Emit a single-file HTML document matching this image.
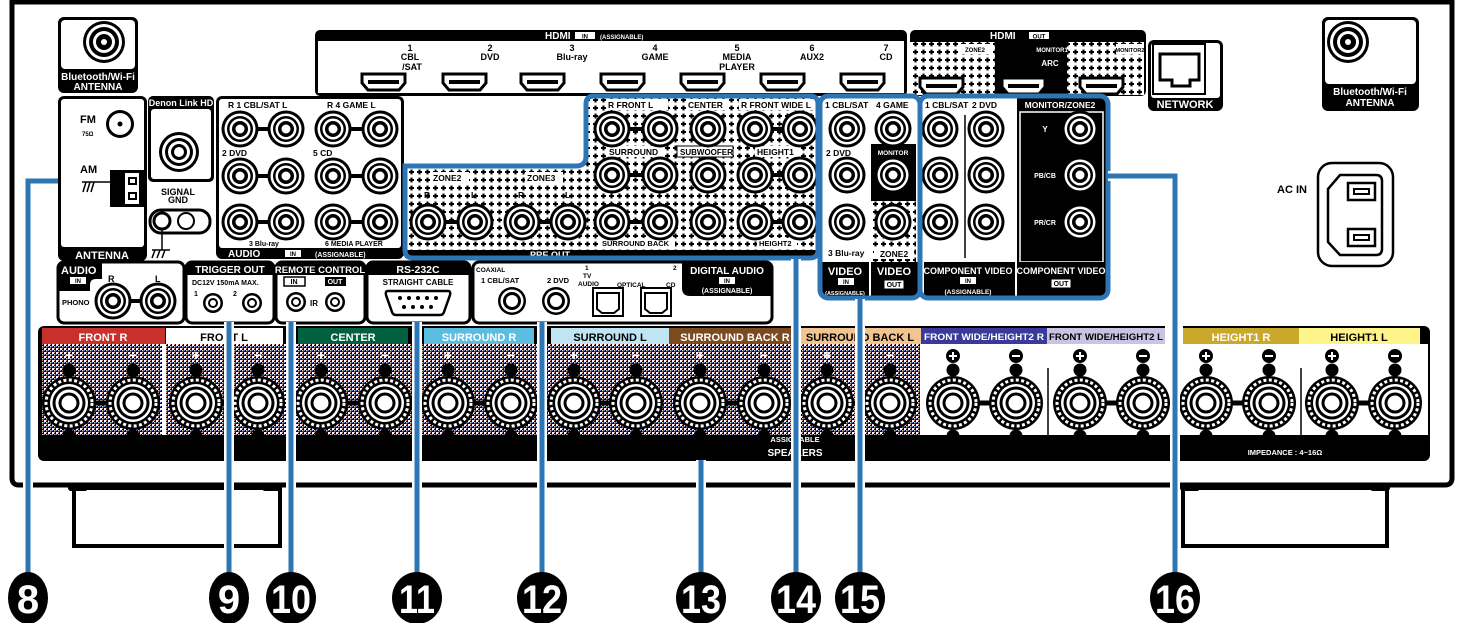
<!DOCTYPE html>
<html><head><meta charset="utf-8"><style>
html,body{margin:0;padding:0;background:#fff}
svg{display:block}
text{font-family:"Liberation Sans",sans-serif;font-weight:bold}
</style></head><body>
<svg width="1458" height="623" viewBox="0 0 1458 623" xmlns="http://www.w3.org/2000/svg">
<defs>
<pattern id="dot" width="8" height="8" patternUnits="userSpaceOnUse">
<rect width="8" height="8" fill="#fff"/><rect x="1" y="3" width="5" height="2" fill="#000"/><rect x="2.5" y="1.5" width="2" height="5" fill="#000"/>
</pattern>
<pattern id="spkp" width="4" height="4" patternUnits="userSpaceOnUse">
<rect width="4" height="4" fill="#000"/><rect x="0" y="0" width="2" height="2" fill="#fff"/><rect x="2" y="2" width="1.5" height="1.5" fill="#bdb"/><rect x="2" y="0" width="1" height="1" fill="#d88"/><rect x="0" y="2" width="1" height="1" fill="#88d"/>
</pattern>
<g id="rca"><circle r="18.5" fill="#000"/><circle r="15.5" fill="#fff"/><circle r="13" fill="#000"/><circle r="10.5" fill="#fff"/><circle r="8" fill="#000"/><circle r="4.5" fill="#fff"/></g>
<g id="rcas"><circle r="14" fill="#000"/><circle r="11.5" fill="#fff"/><circle r="9" fill="#000"/><circle r="6" fill="#fff"/></g>
<g id="spk"><circle cy="-33" r="6.5" fill="#000"/><circle cy="33" r="6.5" fill="#000"/><circle r="27" fill="#000"/><circle r="23" fill="none" stroke="#fff" stroke-width="3" stroke-dasharray="3 2.4"/><circle r="19" fill="#fff"/><circle r="16.5" fill="#000"/><circle r="13.5" fill="#fff"/><circle r="10.5" fill="#000"/><circle r="7.5" fill="#fff"/></g>
<g id="hdmi"><path d="M0,0 H43 V9 L37,16 H6 L0,9 Z" fill="#fff" stroke="#000" stroke-width="3"/><rect x="6" y="6" width="31" height="4" fill="#000"/></g>
</defs>

<path d="M12,2 H1452 V478 Q1452,485 1445,485 H19 Q12,485 12,478 Z" fill="#fff" stroke="#000" stroke-width="5"/>
<rect x="74" y="488" width="206" height="58" fill="#fff" stroke="#000" stroke-width="4"/>
<rect x="1183" y="488" width="204" height="58" fill="#fff" stroke="#000" stroke-width="4"/>
<rect x="68" y="483" width="20" height="8" rx="3" fill="#000"/><rect x="262" y="483" width="20" height="8" rx="3" fill="#000"/>
<rect x="1180" y="483" width="20" height="8" rx="3" fill="#000"/><rect x="1370" y="483" width="20" height="8" rx="3" fill="#000"/>

<rect x="58" y="17" width="80" height="76" rx="6" fill="#000"/>
<rect x="61" y="20" width="74" height="49" rx="4" fill="#fff"/>
<circle cx="104" cy="42" r="21" fill="#000"/><circle cx="104" cy="42" r="18" fill="#fff"/><circle cx="104" cy="42" r="15" fill="#000"/><circle cx="104" cy="42" r="11" fill="#fff"/><circle cx="104" cy="42" r="8" fill="#000"/><circle cx="104" cy="42" r="3" fill="#fff"/>
<text x="98" y="80" font-size="10" fill="#fff" text-anchor="middle">Bluetooth/Wi-Fi</text>
<text x="98" y="90" font-size="10" fill="#fff" text-anchor="middle">ANTENNA</text>
<rect x="1322" y="17" width="97" height="94" rx="6" fill="#000"/>
<rect x="1325" y="20" width="91" height="64" rx="4" fill="#fff"/>
<circle cx="1348" cy="42" r="21" fill="#000"/><circle cx="1348" cy="42" r="18" fill="#fff"/><circle cx="1348" cy="42" r="15" fill="#000"/><circle cx="1348" cy="42" r="11" fill="#fff"/><circle cx="1348" cy="42" r="8" fill="#000"/><circle cx="1348" cy="42" r="3" fill="#fff"/>
<text x="1370" y="95" font-size="10" fill="#fff" text-anchor="middle">Bluetooth/Wi-Fi</text>
<text x="1370" y="106" font-size="10" fill="#fff" text-anchor="middle">ANTENNA</text>

<rect x="315" y="30" width="592" height="66" rx="5" fill="#000"/>
<rect x="318" y="41" width="586" height="52" fill="#fff"/>
<text x="545" y="39" font-size="10" fill="#fff">HDMI</text><rect x="575" y="32" width="20" height="7" fill="#fff"/><text x="585" y="38.5" font-size="6" fill="#000" text-anchor="middle">IN</text>
<text x="600" y="39" font-size="6" fill="#fff">(ASSIGNABLE)</text>
<g font-size="9" text-anchor="middle" fill="#000">
<text x="410" y="51">1</text><text x="410" y="60">CBL</text><text x="412" y="70">/SAT</text>
<text x="490" y="51">2</text><text x="490" y="60">DVD</text>
<text x="572" y="51">3</text><text x="572" y="60">Blu-ray</text>
<text x="655" y="51">4</text><text x="655" y="60">GAME</text>
<text x="737" y="51">5</text><text x="737" y="60">MEDIA</text><text x="737" y="70">PLAYER</text>
<text x="812" y="51">6</text><text x="812" y="60">AUX2</text>
<text x="886" y="51">7</text><text x="886" y="60">CD</text>
</g>
<use href="#hdmi" x="362" y="74"/><use href="#hdmi" x="443" y="74"/><use href="#hdmi" x="521" y="74"/><use href="#hdmi" x="601" y="74"/><use href="#hdmi" x="681" y="74"/><use href="#hdmi" x="761" y="74"/><use href="#hdmi" x="841" y="74"/>

<rect x="910" y="30" width="236" height="66" rx="5" fill="#000"/>
<rect x="910" y="42" width="85" height="53" fill="url(#dot)"/>
<rect x="1067" y="42" width="77" height="53" fill="url(#dot)"/>
<text x="990" y="39" font-size="10" fill="#fff">HDMI</text><rect x="1029" y="32" width="20" height="7" fill="#fff"/><text x="1039" y="38.5" font-size="6" text-anchor="middle">OUT</text>
<rect x="958" y="44" width="34" height="10" fill="#fff"/><text x="975" y="52" font-size="6" text-anchor="middle">ZONE2</text>
<text x="1052" y="52" font-size="6" fill="#fff" text-anchor="middle">MONITOR1</text><text x="1050" y="66" font-size="8" fill="#fff" text-anchor="middle">ARC</text>
<rect x="1116" y="44" width="28" height="10" fill="#fff"/><text x="1130" y="52" font-size="5.5" text-anchor="middle">MONITOR2</text>
<use href="#hdmi" x="920" y="78"/><use href="#hdmi" x="1002" y="78"/><use href="#hdmi" x="1080" y="78"/>

<rect x="1148" y="40" width="75" height="71" rx="6" fill="#000"/>
<rect x="1151" y="43" width="69" height="55" rx="3" fill="#fff"/>
<rect x="1153" y="44" width="52" height="50" fill="none" stroke="#000" stroke-width="2"/>
<path d="M1160,54 H1199 V80 H1190 V86 H1172 V80 H1160 Z" fill="#fff" stroke="#000" stroke-width="3"/>
<text x="1185" y="108" font-size="11" fill="#fff" text-anchor="middle">NETWORK</text>

<rect x="58" y="96" width="89" height="165" rx="6" fill="#000"/>
<rect x="61" y="99" width="83" height="148" rx="3" fill="#fff"/>
<text x="102" y="259" font-size="11" fill="#fff" text-anchor="middle">ANTENNA</text>
<text x="80" y="123" font-size="11">FM</text><text x="82" y="136" font-size="6">75Ω</text>
<circle cx="120" cy="124" r="14" fill="#000"/><circle cx="120" cy="124" r="11" fill="#fff"/><circle cx="120" cy="124" r="2.5" fill="#000"/>
<text x="80" y="173" font-size="11">AM</text>
<path d="M82,182 H110 M86,182 L83,192 M90,182 L87,192 M94,182 L91,192" stroke="#000" stroke-width="1.5"/>
<rect x="110" y="170" width="34" height="37" fill="#000"/><rect x="124" y="172" width="16" height="33" fill="#fff" stroke="#000" stroke-width="2"/>
<rect x="128" y="177" width="9" height="8" fill="#000"/><rect x="128" y="192" width="9" height="8" fill="#000"/>
<rect x="130" y="179" width="5" height="4" fill="#fff"/><rect x="130" y="194" width="5" height="4" fill="#fff"/>
<rect x="148" y="96" width="66" height="86" rx="5" fill="#000"/>
<rect x="151" y="109" width="60" height="70" rx="3" fill="#fff"/>
<text x="181" y="106" font-size="9" fill="#fff" text-anchor="middle">Denon Link HD</text>
<circle cx="179" cy="152" r="20" fill="#000"/><circle cx="179" cy="152" r="17" fill="#fff"/><circle cx="179" cy="152" r="14" fill="#000"/><circle cx="179" cy="152" r="11" fill="#fff"/><circle cx="179" cy="152" r="8" fill="#000"/><circle cx="179" cy="152" r="5" fill="#fff"/>
<text x="178" y="195" font-size="9" text-anchor="middle">SIGNAL</text><text x="178" y="203" font-size="9" text-anchor="middle">GND</text>
<rect x="150" y="210" width="60" height="23" rx="11" fill="#fff" stroke="#000" stroke-width="3"/>
<circle cx="162" cy="221" r="8" fill="#fff" stroke="#000" stroke-width="3"/><circle cx="186" cy="221" r="8" fill="#fff" stroke="#000" stroke-width="2"/>
<path d="M162,229 V250 M152,250 H170 M155,250 L152,258 M160,250 L157,258 M165,250 L162,258" stroke="#000" stroke-width="1.5"/>

<rect x="216" y="96" width="188" height="163" rx="6" fill="#000"/>
<rect x="219" y="99" width="182" height="149" rx="3" fill="#fff"/>
<text x="228" y="257" font-size="10" fill="#fff">AUDIO</text><rect x="285" y="250" width="16" height="7" fill="#fff"/><text x="293" y="256" font-size="6" text-anchor="middle">IN</text>
<text x="315" y="257" font-size="7" fill="#fff">(ASSIGNABLE)</text>
<g font-size="8.5"><text x="228" y="108">R 1 CBL/SAT L</text><text x="327" y="108">R 4 GAME L</text><text x="222" y="156">2 DVD</text><text x="313" y="156">5 CD</text>
<text x="249" y="246" font-size="7">3 Blu-ray</text><text x="325" y="246" font-size="7">6 MEDIA PLAYER</text></g>
<g stroke="#000" stroke-width="4"><path d="M240,129 H286 M333,129 H380 M240,176 H286 M333,176 H380 M240,222 H286 M333,222 H380"/></g>
<use href="#rca" x="240" y="129"/><use href="#rca" x="286" y="129"/><use href="#rca" x="333" y="129"/><use href="#rca" x="380" y="129"/>
<use href="#rca" x="240" y="176"/><use href="#rca" x="286" y="176"/><use href="#rca" x="333" y="176"/><use href="#rca" x="380" y="176"/>
<use href="#rca" x="240" y="222"/><use href="#rca" x="286" y="222"/><use href="#rca" x="333" y="222"/><use href="#rca" x="380" y="222"/>

<path d="M405,166 H576 Q586,166 586,156 V104 Q586,96 594,96 H810 Q818,96 818,104 V250 Q818,258 810,258 H413 Q405,258 405,250 Z" fill="url(#dot)"/>
<rect x="405" y="250" width="413" height="8" fill="#000"/>
<text x="530" y="258" font-size="9" fill="#fff">PRE OUT</text>
<g font-size="8.5" fill="#000">
<rect x="606" y="99" width="62" height="11" fill="#fff"/><text x="608" y="108">R FRONT L</text>
<rect x="686" y="99" width="42" height="11" fill="#fff"/><text x="688" y="108">CENTER</text>
<rect x="739" y="99" width="78" height="11" fill="#fff"/><text x="741" y="108">R FRONT WIDE L</text>
<rect x="607" y="146" width="57" height="11" fill="#fff"/><text x="609" y="155">SURROUND</text>
<rect x="677" y="146" width="56" height="11" fill="#fff" stroke="#000" stroke-width="1"/><text x="680" y="155" font-size="8">SUBWOOFER</text>
<rect x="755" y="146" width="45" height="11" fill="#fff"/><text x="757" y="155">HEIGHT1</text>
<rect x="600" y="238" width="75" height="10" fill="#fff"/><text x="602" y="246" font-size="7.5">SURROUND BACK</text>
<rect x="757" y="238" width="40" height="10" fill="#fff"/><text x="759" y="246" font-size="7.5">HEIGHT2</text>
<rect x="431" y="172" width="38" height="11" fill="#fff"/><text x="433" y="181">ZONE2</text>
<rect x="525" y="172" width="38" height="11" fill="#fff"/><text x="527" y="181">ZONE3</text>
<text x="424" y="198">R</text><text x="471" y="198">L</text><text x="518" y="198">R</text><text x="565" y="198">L</text>
</g>
<g stroke="#000" stroke-width="4"><path d="M612,129 H660 M755,129 H800 M612,175 H660 M755,175 H800 M612,222 H660 M755,222 H800 M428,222 H475 M522,222 H568"/></g>
<use href="#rca" x="612" y="129"/><use href="#rca" x="660" y="129"/><use href="#rca" x="708" y="129"/><use href="#rca" x="755" y="129"/><use href="#rca" x="800" y="129"/>
<use href="#rca" x="612" y="175"/><use href="#rca" x="660" y="175"/><use href="#rca" x="708" y="175"/><use href="#rca" x="755" y="175"/><use href="#rca" x="800" y="175"/>
<use href="#rca" x="612" y="222"/><use href="#rca" x="660" y="222"/><use href="#rca" x="708" y="222"/><use href="#rca" x="755" y="222"/><use href="#rca" x="800" y="222"/>
<use href="#rca" x="428" y="222"/><use href="#rca" x="475" y="222"/><use href="#rca" x="522" y="222"/><use href="#rca" x="568" y="222"/>
<path d="M405,166 H576 Q586,166 586,156 V104 Q586,96 594,96 H810 Q818,96 818,104 V250 Q818,258 810,258 H413 Q405,258 405,250 Z" fill="none" stroke="#2e75b6" stroke-width="5"/>

<rect x="820" y="96" width="100" height="202" rx="8" fill="#fff"/>
<rect x="871" y="144" width="45" height="57" fill="#000"/>
<rect x="871" y="201" width="45" height="62" fill="url(#dot)"/>
<rect x="822" y="262" width="96" height="36" fill="#000"/>
<rect x="869" y="262" width="2" height="36" fill="#fff"/>
<g font-size="8.5"><text x="825" y="108">1 CBL/SAT</text><text x="876" y="108">4 GAME</text><text x="826" y="156">2 DVD</text><text x="828" y="256">3 Blu-ray</text></g>
<text x="893" y="155" font-size="6.5" fill="#fff" text-anchor="middle">MONITOR</text>
<rect x="874" y="248" width="40" height="11" fill="#fff"/><text x="894" y="257" font-size="8.5" text-anchor="middle">ZONE2</text>
<use href="#rca" x="847" y="129"/><use href="#rca" x="893" y="129"/><use href="#rca" x="847" y="175"/><use href="#rca" x="893" y="175"/><use href="#rca" x="847" y="222"/><use href="#rca" x="893" y="222"/>
<text x="845" y="275" font-size="11" fill="#fff" text-anchor="middle">VIDEO</text><rect x="838" y="278" width="16" height="7" fill="#fff"/><text x="846" y="284" font-size="6" text-anchor="middle">IN</text>
<text x="845" y="295" font-size="5.5" fill="#fff" text-anchor="middle">(ASSIGNABLE)</text>
<text x="894" y="275" font-size="11" fill="#fff" text-anchor="middle">VIDEO</text><rect x="884" y="280" width="20" height="9" fill="#fff" stroke="#000"/><text x="894" y="287" font-size="7" text-anchor="middle">OUT</text>
<rect x="820" y="96" width="100" height="202" rx="8" fill="none" stroke="#2e75b6" stroke-width="5"/>

<rect x="922" y="96" width="186" height="202" rx="8" fill="#fff"/>
<rect x="1017" y="98" width="89" height="198" fill="#000"/>
<rect x="1020" y="112" width="83" height="150" fill="none" stroke="#fff" stroke-width="1.5"/>
<rect x="924" y="262" width="184" height="34" fill="#000"/>
<rect x="1015" y="262" width="2" height="34" fill="#fff"/>
<path d="M965,115 V258" stroke="#000" stroke-width="1.5"/>
<g font-size="8.5"><text x="925" y="108">1 CBL/SAT</text><text x="972" y="108">2 DVD</text></g>
<text x="1060" y="108" font-size="8.5" fill="#fff" text-anchor="middle">MONITOR/ZONE2</text>
<text x="1045" y="132" font-size="8" fill="#fff" text-anchor="middle">Y</text>
<text x="1045" y="178" font-size="7" fill="#fff" text-anchor="middle">PB/CB</text>
<text x="1045" y="225" font-size="7" fill="#fff" text-anchor="middle">PR/CR</text>
<use href="#rca" x="940" y="129"/><use href="#rca" x="986" y="129"/><use href="#rca" x="940" y="175"/><use href="#rca" x="986" y="175"/><use href="#rca" x="940" y="222"/><use href="#rca" x="986" y="222"/>
<use href="#rca" x="1080" y="129"/><use href="#rca" x="1080" y="175"/><use href="#rca" x="1080" y="222"/>
<text x="968" y="274" font-size="9" fill="#fff" text-anchor="middle">COMPONENT VIDEO</text><rect x="960" y="277" width="16" height="7" fill="#fff"/><text x="968" y="283" font-size="6" text-anchor="middle">IN</text>
<text x="968" y="294" font-size="6.5" fill="#fff" text-anchor="middle">(ASSIGNABLE)</text>
<text x="1061" y="274" font-size="9" fill="#fff" text-anchor="middle">COMPONENT VIDEO</text><rect x="1051" y="279" width="20" height="9" fill="#fff" stroke="#000"/><text x="1061" y="286" font-size="7" text-anchor="middle">OUT</text>
<rect x="920" y="96" width="188" height="202" rx="8" fill="none" stroke="#2e75b6" stroke-width="5"/>

<rect x="1318" y="163" width="75" height="103" rx="14" fill="#fff" stroke="#000" stroke-width="2.5"/>
<path d="M1340,175 H1376 Q1382,175 1382,181 V249 Q1382,255 1376,255 H1340 L1328,242 V189 Z" fill="#fff" stroke="#000" stroke-width="2.5"/>
<rect x="1348" y="183" width="27" height="17" fill="#fff" stroke="#000" stroke-width="2.5"/><rect x="1354" y="189" width="15" height="5" fill="#fff" stroke="#000" stroke-width="2"/>
<rect x="1348" y="229" width="27" height="17" fill="#fff" stroke="#000" stroke-width="2.5"/><rect x="1354" y="235" width="15" height="5" fill="#fff" stroke="#000" stroke-width="2"/>
<text x="1277" y="193" font-size="11">AC IN</text>

<rect x="58" y="262" width="126" height="61" rx="6" fill="#fff" stroke="#000" stroke-width="3"/>
<path d="M58,268 Q58,262 64,262 H102 V279 H96 Q90,279 90,285 V291 H58 Z" fill="#000"/>
<text x="61" y="274" font-size="11" fill="#fff">AUDIO</text><rect x="70" y="277" width="16" height="7" fill="#fff"/><text x="78" y="283" font-size="6" text-anchor="middle">IN</text>
<text x="108" y="282" font-size="9">R</text><text x="155" y="282" font-size="9">L</text>
<text x="62" y="305" font-size="7.5">PHONO</text>
<path d="M113,301 H158" stroke="#000" stroke-width="4"/><use href="#rca" x="113" y="301"/><use href="#rca" x="158" y="301"/>

<rect x="186" y="262" width="88" height="61" rx="6" fill="#fff" stroke="#000" stroke-width="3"/>
<path d="M186,268 Q186,262 192,262 H268 Q274,262 274,268 V275 H186 Z" fill="#000"/>
<text x="230" y="273" font-size="10" fill="#fff" text-anchor="middle">TRIGGER OUT</text>
<text x="192" y="285" font-size="7">DC12V 150mA MAX.</text><text x="194" y="296" font-size="7">1</text><text x="233" y="296" font-size="7">2</text>
<circle cx="213" cy="303" r="10" fill="#000"/><circle cx="213" cy="303" r="7.5" fill="#fff"/><circle cx="213" cy="303" r="5" fill="#000"/><circle cx="213" cy="303" r="3" fill="#fff"/>
<circle cx="252" cy="303" r="10" fill="#000"/><circle cx="252" cy="303" r="7.5" fill="#fff"/><circle cx="252" cy="303" r="5" fill="#000"/><circle cx="252" cy="303" r="3" fill="#fff"/>

<rect x="276" y="262" width="89" height="61" rx="6" fill="#fff" stroke="#000" stroke-width="3"/>
<path d="M276,268 Q276,262 282,262 H359 Q365,262 365,268 V275 H276 Z" fill="#000"/>
<text x="320" y="273" font-size="9.5" fill="#fff" text-anchor="middle">REMOTE CONTROL</text>
<rect x="284" y="277" width="21" height="9" fill="#fff" stroke="#000" stroke-width="1.5"/><text x="294" y="284" font-size="7" text-anchor="middle">IN</text>
<rect x="325" y="277" width="21" height="9" fill="#000"/><text x="335" y="284" font-size="7" fill="#fff" text-anchor="middle">OUT</text>
<text x="310" y="306" font-size="8">IR</text>
<circle cx="296" cy="302" r="10" fill="#000"/><circle cx="296" cy="302" r="7.5" fill="#fff"/><circle cx="296" cy="302" r="5" fill="#000"/><circle cx="296" cy="302" r="3" fill="#fff"/>
<circle cx="335" cy="302" r="10" fill="#000"/><circle cx="335" cy="302" r="7.5" fill="#fff"/><circle cx="335" cy="302" r="5" fill="#000"/><circle cx="335" cy="302" r="3" fill="#fff"/>

<rect x="367" y="262" width="103" height="61" rx="6" fill="#fff" stroke="#000" stroke-width="3"/>
<path d="M367,268 Q367,262 373,262 H464 Q470,262 470,268 V275 H367 Z" fill="#000"/>
<text x="418" y="273" font-size="10.5" fill="#fff" text-anchor="middle">RS-232C</text>
<text x="418" y="285" font-size="8" text-anchor="middle">STRAIGHT CABLE</text>
<path d="M388,291 H448 Q451,291 450,295 L444,312 Q443,315 440,315 H396 Q393,315 392,312 L386,295 Q385,291 388,291 Z" fill="#fff" stroke="#000" stroke-width="2.5"/>
<g fill="#000"><circle cx="400" cy="298" r="2"/><circle cx="409" cy="298" r="2"/><circle cx="418" cy="298" r="2"/><circle cx="427" cy="298" r="2"/><circle cx="436" cy="298" r="2"/><circle cx="404" cy="307" r="2"/><circle cx="413" cy="307" r="2"/><circle cx="422" cy="307" r="2"/><circle cx="431" cy="307" r="2"/></g>

<rect x="473" y="262" width="299" height="61" rx="6" fill="#fff" stroke="#000" stroke-width="3"/>
<path d="M682,262 H766 Q772,262 772,268 V296 H690 Q682,296 682,288 Z" fill="#000"/>
<text x="727" y="274" font-size="10" fill="#fff" text-anchor="middle">DIGITAL AUDIO</text><rect x="719" y="277" width="16" height="7" fill="#fff"/><text x="727" y="283" font-size="6" text-anchor="middle">IN</text>
<text x="727" y="293" font-size="7" fill="#fff" text-anchor="middle">(ASSIGNABLE)</text>
<text x="476" y="272" font-size="6.5">COAXIAL</text><text x="481" y="283" font-size="7.5">1 CBL/SAT</text><text x="547" y="283" font-size="7.5">2 DVD</text>
<text x="585" y="270" font-size="6.5">1</text><text x="583" y="278" font-size="6.5">TV</text><text x="578" y="286" font-size="6.5">AUDIO</text>
<text x="617" y="287" font-size="6.5">OPTICAL</text><text x="673" y="270" font-size="6.5">2</text><text x="666" y="287" font-size="6.5">CD</text>
<use href="#rcas" x="512" y="301"/><use href="#rcas" x="556" y="301"/>
<rect x="593" y="288" width="30" height="28" fill="#fff" stroke="#000" stroke-width="2"/><path d="M597,293 H619 V309 L614,313 H602 L597,309 Z" fill="#fff" stroke="#000" stroke-width="2"/>
<rect x="641" y="288" width="30" height="28" fill="#fff" stroke="#000" stroke-width="2"/><path d="M645,293 H667 V309 L662,313 H650 L645,309 Z" fill="#fff" stroke="#000" stroke-width="2"/>

<rect x="38" y="326" width="1392" height="135" rx="6" fill="#000"/>
<rect x="42" y="344" width="878" height="91" fill="url(#spkp)"/>
<rect x="920" y="344" width="245" height="91" fill="#fff"/>
<rect x="1165" y="344" width="263" height="91" fill="#fff"/>
<rect x="1165" y="326" width="18" height="109" fill="#fff"/>
<rect x="162" y="344" width="4" height="91" fill="#fff"/>
<rect x="42" y="328" width="123" height="16" fill="#c8302c"/>
<rect x="166" y="328" width="117" height="16" fill="#fff"/>
<rect x="298" y="328" width="110" height="16" fill="#006040"/>
<rect x="424" y="328" width="110" height="16" fill="#5bbde0"/>
<rect x="551" y="328" width="118" height="16" fill="#bfe4f2"/>
<rect x="669" y="328" width="130" height="16" fill="#7b4a1e"/>
<rect x="800" y="328" width="121" height="16" fill="#f2c490"/>
<rect x="921" y="328" width="126" height="16" fill="#3a3a9a"/>
<rect x="1047" y="328" width="118" height="16" fill="#c8c4e4"/>
<rect x="1183" y="328" width="116" height="16" fill="#c9a82c"/>
<rect x="1299" y="328" width="121" height="16" fill="#fff48a"/>
<g font-size="11">
<text x="103" y="341" fill="#fff" text-anchor="middle">FRONT R</text>
<text x="224" y="341" text-anchor="middle">FRONT L</text>
<text x="353" y="341" fill="#fff" text-anchor="middle">CENTER</text>
<text x="479" y="341" fill="#fff" text-anchor="middle">SURROUND R</text>
<text x="610" y="341" text-anchor="middle">SURROUND L</text>
<text x="735" y="341" fill="#fff" text-anchor="middle">SURROUND BACK R</text>
<text x="860" y="341" text-anchor="middle">SURROUND BACK L</text>
<text x="984" y="340" fill="#fff" text-anchor="middle" font-size="9.5" textLength="120" lengthAdjust="spacingAndGlyphs">FRONT WIDE/HEIGHT2 R</text>
<text x="1106" y="340" text-anchor="middle" font-size="9.5" textLength="114" lengthAdjust="spacingAndGlyphs">FRONT WIDE/HEIGHT2 L</text>
<text x="1241" y="341" fill="#fff" text-anchor="middle">HEIGHT1 R</text>
<text x="1359" y="341" text-anchor="middle">HEIGHT1 L</text>
</g>
<g stroke="#000" stroke-width="5">
<path d="M69,403 H133 M196,403 H258 M321,403 H385 M448,403 H511 M574,403 H636 M700,403 H764 M827,403 H890 M953,403 H1016 M1080,403 H1143 M1206,403 H1269 M1332,403 H1395"/>
</g>
<g>
<use href="#spk" x="69" y="403"/><use href="#spk" x="133" y="403"/><use href="#spk" x="196" y="403"/><use href="#spk" x="258" y="403"/>
<use href="#spk" x="321" y="403"/><use href="#spk" x="385" y="403"/><use href="#spk" x="448" y="403"/><use href="#spk" x="511" y="403"/>
<use href="#spk" x="574" y="403"/><use href="#spk" x="636" y="403"/><use href="#spk" x="700" y="403"/><use href="#spk" x="764" y="403"/>
<use href="#spk" x="827" y="403"/><use href="#spk" x="890" y="403"/><use href="#spk" x="953" y="403"/><use href="#spk" x="1016" y="403"/>
<use href="#spk" x="1080" y="403"/><use href="#spk" x="1143" y="403"/><use href="#spk" x="1206" y="403"/><use href="#spk" x="1269" y="403"/>
<use href="#spk" x="1332" y="403"/><use href="#spk" x="1395" y="403"/>
</g>
<g fill="#fff" font-size="14" text-anchor="middle">
<text x="69" y="360">+</text><text x="133" y="360">−</text><text x="196" y="360">+</text><text x="258" y="360">−</text>
<text x="321" y="360">+</text><text x="385" y="360">−</text><text x="448" y="360">+</text><text x="511" y="360">−</text>
<text x="574" y="360">+</text><text x="636" y="360">−</text><text x="700" y="360">+</text><text x="764" y="360">−</text>
<text x="827" y="360">+</text><text x="890" y="360">−</text>
</g>
<g>
<circle cx="953" cy="356" r="7" fill="#000"/><circle cx="1016" cy="356" r="7" fill="#000"/><circle cx="1080" cy="356" r="7" fill="#000"/><circle cx="1143" cy="356" r="7" fill="#000"/>
<circle cx="1206" cy="356" r="7" fill="#000"/><circle cx="1269" cy="356" r="7" fill="#000"/><circle cx="1332" cy="356" r="7" fill="#000"/><circle cx="1395" cy="356" r="7" fill="#000"/>
<g stroke="#fff" stroke-width="2"><path d="M949,356 H957 M953,352 V360 M1012,356 H1020 M1076,356 H1084 M1080,352 V360 M1139,356 H1147 M1202,356 H1210 M1206,352 V360 M1265,356 H1273 M1328,356 H1336 M1332,352 V360 M1391,356 H1399"/></g>
</g>
<path d="M1048,368 V440 M1301,368 V440" stroke="#000" stroke-width="1.5"/>
<g font-size="7.5">
<text x="1048" y="442" text-anchor="middle">ASSIGNABLE</text><text x="1300" y="442" text-anchor="middle">ASSIGNABLE</text>
<text x="795" y="442" text-anchor="middle" fill="#fff">ASSIGNABLE</text>
</g>
<text x="795" y="456" font-size="10" fill="#fff" text-anchor="middle">SPEAKERS</text>
<text x="1285" y="455" font-size="7.5" fill="#fff" text-anchor="middle">IMPEDANCE : 4~16Ω</text>

<g fill="none">
<g stroke="#fff" stroke-width="10">
<path d="M28,600 V181 H58"/><path d="M229,600 V322"/><path d="M291,600 V322"/><path d="M417,600 V322"/><path d="M542,600 V322"/><path d="M701,600 V460"/><path d="M796,600 V259"/><path d="M860,600 V299"/><path d="M1175,600 V176 H1108"/>
</g>
<g stroke="#2e75b6" stroke-width="5">
<path d="M28,600 V181 H58"/><path d="M229,600 V322"/><path d="M291,600 V322"/><path d="M417,600 V322"/><path d="M542,600 V322"/><path d="M701,600 V460"/><path d="M796,600 V259"/><path d="M860,600 V299"/><path d="M1175,600 V176 H1108"/>
</g>
</g>
<g fill="#000">
<ellipse cx="28" cy="598" rx="20" ry="26"/><ellipse cx="229" cy="598" rx="20" ry="26"/><ellipse cx="291" cy="598" rx="25" ry="26"/>
<ellipse cx="417" cy="598" rx="25" ry="26"/><ellipse cx="542" cy="598" rx="25" ry="26"/><ellipse cx="701" cy="598" rx="25" ry="26"/>
<ellipse cx="796" cy="598" rx="25" ry="26"/><ellipse cx="860" cy="598" rx="25" ry="26"/><ellipse cx="1175" cy="598" rx="25" ry="26"/>
</g>
<g fill="#fff" font-size="40" text-anchor="middle">
<text x="28" y="613">8</text><text x="229" y="613">9</text>
<text x="291" y="613" textLength="40" lengthAdjust="spacingAndGlyphs">10</text>
<text x="417" y="613" textLength="36" lengthAdjust="spacingAndGlyphs">11</text>
<text x="542" y="613" textLength="40" lengthAdjust="spacingAndGlyphs">12</text>
<text x="701" y="613" textLength="40" lengthAdjust="spacingAndGlyphs">13</text>
<text x="796" y="613" textLength="40" lengthAdjust="spacingAndGlyphs">14</text>
<text x="860" y="613" textLength="40" lengthAdjust="spacingAndGlyphs">15</text>
<text x="1175" y="613" textLength="40" lengthAdjust="spacingAndGlyphs">16</text>
</g>
</svg>
</body></html>
